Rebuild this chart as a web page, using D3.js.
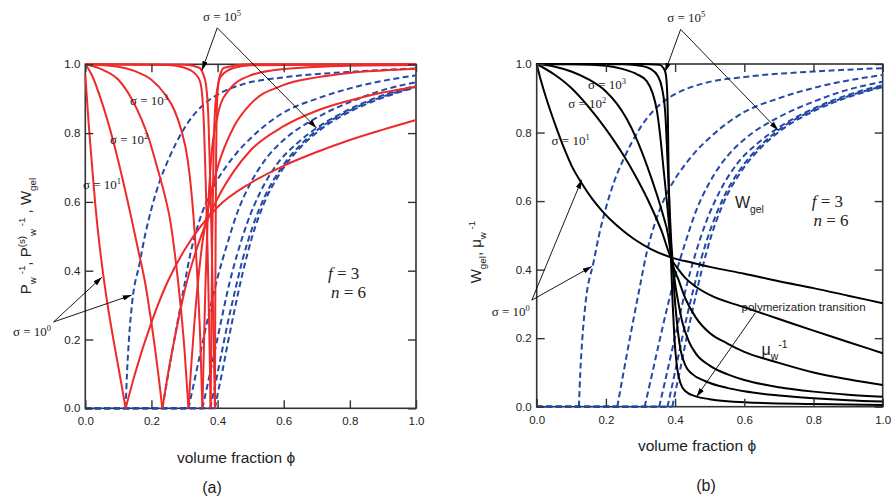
<!DOCTYPE html>
<html>
<head>
<meta charset="utf-8">
<script src="https://cdn.jsdelivr.net/npm/d3@7"></script>
<style>
  body { margin: 0; background: #fff; }
</style>
</head>
<body>
<svg id="chart" width="894" height="497"></svg>
<script>
// sigma = 10^k, k = 0..5, f = 3, n = 6
const sigmaExp = [0, 1, 2, 3, 4, 5];
const gelPhi = [0.122, 0.233, 0.312, 0.354, 0.379, 0.392];
const xTicks = [0, 0.2, 0.4, 0.6, 0.8, 1.0];
const yTicks = [0, 0.2, 0.4, 0.6, 0.8, 1.0];

// sol branch P_w^-1 (red, falls to 0 at the gel point)
const solDown = [
  [[0,0.97],[0.01,0.83],[0.02,0.71],[0.03,0.595],[0.04,0.5],[0.054,0.39],[0.07,0.285],[0.085,0.2],[0.1,0.12],[0.112,0.055],[0.122,0]],
  [[0,1],[0.02,0.968],[0.05,0.89],[0.085,0.775],[0.107,0.69],[0.14,0.55],[0.16,0.46],[0.18,0.37],[0.195,0.28],[0.21,0.18],[0.222,0.09],[0.233,0]],
  [[0,1],[0.05,0.985],[0.1,0.955],[0.14,0.9],[0.17,0.84],[0.19,0.79],[0.216,0.705],[0.24,0.62],[0.256,0.55],[0.272,0.44],[0.288,0.3],[0.3,0.17],[0.312,0]],
  [[0,1],[0.1,0.993],[0.15,0.98],[0.2,0.955],[0.243,0.91],[0.27,0.865],[0.29,0.81],[0.31,0.72],[0.327,0.56],[0.34,0.36],[0.348,0.19],[0.354,0]],
  [[0,1],[0.25,0.998],[0.3,0.99],[0.33,0.975],[0.347,0.95],[0.357,0.86],[0.364,0.66],[0.37,0.45],[0.375,0.22],[0.379,0]],
  [[0,1],[0.3,0.999],[0.345,0.99],[0.355,0.975],[0.365,0.94],[0.372,0.85],[0.378,0.66],[0.384,0.4],[0.388,0.2],[0.392,0]]
];

// gel branch P_w^(s)-1 (red, rises after the gel point)
const gelUp = [
  [[0.122,0],[0.15,0.1],[0.2,0.25],[0.25,0.37],[0.3,0.46],[0.35,0.53],[0.4,0.585],[0.5,0.655],[0.6,0.705],[0.7,0.745],[0.8,0.78],[0.9,0.81],[1.0,0.838]],
  [[0.233,0],[0.25,0.1],[0.28,0.25],[0.3,0.34],[0.35,0.5],[0.4,0.61],[0.45,0.69],[0.5,0.75],[0.6,0.82],[0.7,0.865],[0.8,0.895],[0.9,0.918],[1.0,0.935]],
  [[0.312,0],[0.32,0.12],[0.33,0.25],[0.35,0.45],[0.375,0.6],[0.4,0.7],[0.45,0.82],[0.5,0.885],[0.6,0.94],[0.7,0.962],[0.8,0.975],[0.9,0.982],[1.0,0.987]],
  [[0.354,0],[0.358,0.15],[0.363,0.35],[0.37,0.55],[0.38,0.72],[0.4,0.85],[0.43,0.92],[0.5,0.968],[0.6,0.986],[0.8,0.996],[1.0,0.998]],
  [[0.379,0],[0.381,0.2],[0.384,0.5],[0.388,0.75],[0.395,0.9],[0.41,0.965],[0.45,0.99],[0.5,0.997],[1.0,1]],
  [[0.392,0],[0.393,0.3],[0.395,0.65],[0.398,0.88],[0.405,0.96],[0.42,0.99],[0.5,1],[1.0,1]]
];

// gel fraction W_gel (blue dashed, zero below the gel point)
const wGel = [
  [[0.122,0],[0.126,0.1],[0.132,0.2],[0.142,0.31],[0.164,0.42],[0.18,0.5],[0.2,0.58],[0.225,0.66],[0.25,0.72],[0.3,0.815],[0.366,0.89],[0.4,0.912],[0.48,0.943],[0.6,0.962],[0.8,0.978],[1.0,0.988]],
  [[0.233,0],[0.25,0.095],[0.275,0.23],[0.3,0.36],[0.318,0.45],[0.34,0.53],[0.366,0.6],[0.4,0.665],[0.424,0.7],[0.46,0.745],[0.5,0.785],[0.6,0.86],[0.7,0.9],[0.8,0.93],[0.9,0.952],[1.0,0.968]],
  [[0.312,0],[0.33,0.08],[0.35,0.17],[0.375,0.28],[0.4,0.38],[0.43,0.48],[0.46,0.57],[0.5,0.655],[0.55,0.73],[0.6,0.78],[0.7,0.845],[0.8,0.89],[0.9,0.925],[1.0,0.948]],
  [[0.354,0],[0.37,0.07],[0.39,0.16],[0.41,0.25],[0.43,0.34],[0.46,0.45],[0.49,0.54],[0.53,0.63],[0.58,0.71],[0.64,0.77],[0.7,0.815],[0.8,0.87],[0.9,0.91],[1.0,0.938]],
  [[0.378,0],[0.39,0.055],[0.41,0.15],[0.43,0.245],[0.45,0.33],[0.475,0.43],[0.505,0.525],[0.54,0.61],[0.59,0.695],[0.65,0.765],[0.7,0.808],[0.8,0.866],[0.9,0.906],[1.0,0.935]],
  [[0.392,0],[0.4,0.04],[0.415,0.11],[0.43,0.185],[0.45,0.28],[0.475,0.39],[0.505,0.5],[0.54,0.595],[0.59,0.685],[0.65,0.758],[0.7,0.802],[0.8,0.862],[0.9,0.903],[1.0,0.933]]
];

// inverse weight-average degree mu_w^-1 (black)
const muInv = [
  [[0,1],[0.01,0.96],[0.02,0.925],[0.04,0.862],[0.06,0.805],[0.08,0.752],[0.1,0.705],[0.13,0.652],[0.16,0.607],[0.19,0.57],[0.23,0.53],[0.28,0.49],[0.33,0.46],[0.39,0.435],[0.45,0.42],[0.5,0.408],[0.6,0.388],[0.7,0.366],[0.8,0.346],[0.9,0.324],[1.0,0.302]],
  [[0,1],[0.05,0.97],[0.1,0.93],[0.15,0.875],[0.2,0.81],[0.25,0.735],[0.29,0.665],[0.33,0.585],[0.36,0.515],[0.39,0.43],[0.41,0.4],[0.43,0.375],[0.46,0.35],[0.5,0.326],[0.6,0.29],[0.7,0.256],[0.8,0.222],[0.9,0.189],[1.0,0.156]],
  [[0,1],[0.05,0.993],[0.1,0.978],[0.15,0.955],[0.2,0.92],[0.231,0.885],[0.26,0.84],[0.289,0.78],[0.32,0.7],[0.347,0.62],[0.365,0.56],[0.38,0.5],[0.39,0.43],[0.41,0.37],[0.43,0.315],[0.46,0.26],[0.5,0.215],[0.55,0.185],[0.6,0.16],[0.7,0.128],[0.8,0.1],[0.9,0.08],[1.0,0.063]],
  [[0,1],[0.1,0.999],[0.2,0.995],[0.25,0.985],[0.29,0.97],[0.318,0.95],[0.335,0.915],[0.347,0.866],[0.357,0.79],[0.366,0.7],[0.378,0.58],[0.385,0.5],[0.392,0.425],[0.4,0.36],[0.41,0.3],[0.42,0.25],[0.44,0.19],[0.46,0.155],[0.5,0.12],[0.55,0.095],[0.6,0.078],[0.7,0.057],[0.8,0.044],[0.9,0.035],[1.0,0.029]],
  [[0,1],[0.25,0.999],[0.3,0.995],[0.33,0.985],[0.35,0.965],[0.362,0.93],[0.372,0.85],[0.378,0.72],[0.384,0.58],[0.389,0.48],[0.393,0.42],[0.398,0.33],[0.405,0.25],[0.415,0.17],[0.43,0.12],[0.45,0.095],[0.486,0.075],[0.55,0.055],[0.6,0.045],[0.7,0.033],[0.8,0.025],[0.9,0.019],[1.0,0.015]],
  [[0,1],[0.3,1],[0.355,0.998],[0.365,0.99],[0.372,0.975],[0.376,0.94],[0.379,0.85],[0.381,0.7],[0.384,0.55],[0.388,0.43],[0.393,0.3],[0.398,0.2],[0.405,0.12],[0.415,0.07],[0.43,0.045],[0.46,0.03],[0.5,0.022],[0.6,0.013],[0.8,0.008],[1.0,0.005]]
];

const RED = "#ee2a2a", BLUE = "#2449a6", BLACK = "#000";
const SANS = "'Liberation Sans', Arial, sans-serif";
const SERIF = "'Liberation Serif', 'Times New Roman', serif";

var svg = d3.select("#chart").style("font-family", SANS);

svg.append("defs").append("marker")
    .attr("id", "arr")
    .attr("viewBox", "0 0 10 6")
    .attr("refX", 10).attr("refY", 3)
    .attr("markerWidth", 9).attr("markerHeight", 5.4)
    .attr("markerUnits", "userSpaceOnUse")
    .attr("orient", "auto")
  .append("path")
    .attr("d", "M0,0 L10,3 L0,6 z")
    .attr("fill", "#000");

// text with sub/superscripts, parts = [[text, "b"|"sub"|"sup", size]]
const richText = (parent, parts, baseSize) => {
    var t = parent.append("text").style("font-size", baseSize + "px");
    var cur = 0;
    parts.forEach(function (p) {
        var off = p[1] === "sub" ? baseSize * 0.3 : (p[1] === "sup" ? -baseSize * 0.42 : 0);
        var sz = p[2] || (p[1] === "b" ? baseSize : baseSize * 0.65);
        t.append("tspan").attr("dy", off - cur).style("font-size", sz + "px").text(p[0]);
        cur = off;
    });
    return t;
};

const sigmaLabel = (g, x, y, px, py, e) => {
    var t = g.append("text")
        .attr("x", x(px)).attr("y", y(py))
        .style("font-family", SERIF).style("font-size", "13px").attr("fill", "#222");
    t.append("tspan").text("\u03c3 = 10");
    t.append("tspan").attr("dy", -5).style("font-size", "8.5px").text(e);
};

const paramLabel = (g, px, py, sym, val) => {
    var t = g.append("text").attr("x", px).attr("y", py)
        .style("font-family", SERIF).style("font-size", "17px").attr("fill", "#222");
    t.append("tspan").style("font-style", "italic").text(sym);
    t.append("tspan").text(" = " + val);
};

const arrow = (g, x, y, a, b) => {
    g.append("line")
        .attr("x1", x(a[0])).attr("y1", y(a[1]))
        .attr("x2", x(b[0])).attr("y2", y(b[1]))
        .attr("stroke", "#000").attr("stroke-width", 0.9)
        .attr("marker-end", "url(#arr)");
};

const drawPanel = (cfg) => {
    var x = d3.scaleLinear().domain([0, 1]).range([cfg.left, cfg.right]);
    var y = d3.scaleLinear().domain([0, 1]).range([cfg.bottom, cfg.top]);
    var g = svg.append("g");

    var line = d3.line()
        .x(function (d) { return x(d[0]); })
        .y(function (d) { return y(d[1]); })
        .curve(d3.curveMonotoneX);
    var flat = d3.line()
        .x(function (d) { return x(d[0]); })
        .y(function (d) { return y(d[1]); });

    // frame
    g.append("rect")
        .attr("x", x(0)).attr("y", y(1))
        .attr("width", x(1) - x(0)).attr("height", y(0) - y(1))
        .attr("fill", "none").attr("stroke", "#333").attr("stroke-width", 1.6);

    // W_gel, blue dashed
    var wg = g.append("g").attr("fill", "none").attr("stroke", BLUE)
        .attr("stroke-width", 2).attr("stroke-dasharray", "6,3.5");
    wGel.forEach(function (c, i) {
        wg.append("path").attr("d", flat([[0, 0], [gelPhi[i], 0]]));
        wg.append("path").attr("d", line(c));
    });

    var cg = g.append("g").attr("fill", "none").attr("stroke-width", 2)
        .attr("stroke", cfg.color).attr("stroke-linejoin", "round");
    cfg.curves.forEach(function (c) {
        cg.append("path").attr("d", line(c));
    });

    // axes, inward ticks on all four sides
    var fmt = d3.format(".1f");
    var axB = g.append("g").attr("transform", "translate(0," + y(0) + ")")
        .call(d3.axisBottom(x).tickValues(xTicks).tickSizeInner(-8).tickSizeOuter(0).tickPadding(9).tickFormat(fmt));
    var axL = g.append("g").attr("transform", "translate(" + x(0) + ",0)")
        .call(d3.axisLeft(y).tickValues(yTicks).tickSizeInner(-8).tickSizeOuter(0).tickPadding(5).tickFormat(fmt));
    var axT = g.append("g").attr("transform", "translate(0," + y(1) + ")")
        .call(d3.axisTop(x).tickValues(xTicks).tickSizeInner(-8).tickSizeOuter(0).tickFormat(""));
    var axR = g.append("g").attr("transform", "translate(" + x(1) + ",0)")
        .call(d3.axisRight(y).tickValues(yTicks).tickSizeInner(-8).tickSizeOuter(0).tickFormat(""));
    [axB, axL, axT, axR].forEach(function (a) {
        a.select(".domain").remove();
        a.selectAll("line").attr("stroke", "#333").attr("stroke-width", 1.4);
        a.selectAll("text").attr("font-size", 11.5).attr("fill", "#222").attr("font-family", SANS);
    });

    return { g: g, x: x, y: y };
};

// ---- panel (a) ----
var pa = drawPanel({ left: 85.3, right: 416, top: 64.3, bottom: 408.3, color: RED,
    curves: solDown.concat(gelUp) });
(function (p) {
    var g = p.g, x = p.x, y = p.y;
    sigmaLabel(g, x, y, 0.356, 1.126, sigmaExp[5]);
    arrow(g, x, y, [0.399, 1.106], [0.353, 0.983]);
    arrow(g, x, y, [0.399, 1.106], [0.699, 0.815]);
    sigmaLabel(g, x, y, 0.135, 0.882, sigmaExp[3]);
    sigmaLabel(g, x, y, 0.075, 0.768, sigmaExp[2]);
    sigmaLabel(g, x, y, -0.007, 0.638, sigmaExp[1]);
    sigmaLabel(g, x, y, -0.219, 0.21, sigmaExp[0]);
    arrow(g, x, y, [-0.096, 0.251], [0.05, 0.381]);
    arrow(g, x, y, [-0.096, 0.251], [0.14, 0.329]);

    paramLabel(g, x(0.734), y(0.376), "f", 3);
    paramLabel(g, x(0.743), y(0.32), "n", 6);

    g.append("text").attr("x", 177).attr("y", 463).style("font-size", "15.5px").attr("fill", "#222")
        .text("volume fraction  \u03d5");
    g.append("text").attr("x", 212).attr("y", 493).style("font-size", "16px").attr("fill", "#222")
        .attr("text-anchor", "middle").text("(a)");

    var yl = richText(g, [["P", "b"], ["w", "sub"], [" -1", "sup"], [",  P", "b"], ["(s)", "sup"],
        ["w", "sub"], [" -1", "sup"], [" ,  W", "b"], ["gel", "sub"]], 15);
    yl.attr("transform", "translate(31,236) rotate(-90)").attr("text-anchor", "middle").attr("fill", "#222");
})(pa);

// ---- panel (b) ----
var pb = drawPanel({ left: 536.7, right: 882.7, top: 64, bottom: 406.7, color: BLACK,
    curves: muInv });
(function (p) {
    var g = p.g, x = p.x, y = p.y;
    sigmaLabel(g, x, y, 0.377, 1.123, sigmaExp[5]);
    arrow(g, x, y, [0.416, 1.101], [0.371, 0.977]);
    arrow(g, x, y, [0.416, 1.101], [0.698, 0.807]);
    sigmaLabel(g, x, y, 0.148, 0.927, sigmaExp[3]);
    sigmaLabel(g, x, y, 0.091, 0.872, sigmaExp[2]);
    sigmaLabel(g, x, y, 0.043, 0.764, sigmaExp[1]);
    sigmaLabel(g, x, y, -0.13, 0.264, sigmaExp[0]);
    arrow(g, x, y, [-0.014, 0.311], [0.13, 0.662]);
    arrow(g, x, y, [-0.014, 0.311], [0.159, 0.409]);

    paramLabel(g, x(0.795), y(0.583), "f", 3);
    paramLabel(g, x(0.8), y(0.527), "n", 6);

    richText(g, [["W", "b"], ["gel", "sub"]], 16).attr("x", x(0.573)).attr("y", y(0.58)).attr("fill", "#222");
    richText(g, [["\u03bc", "b"], ["w", "sub"], ["-1", "sup"]], 16).attr("x", x(0.65)).attr("y", y(0.151)).attr("fill", "#222");

    g.append("text").attr("x", x(0.592)).attr("y", y(0.279)).style("font-size", "11.5px").attr("fill", "#222")
        .text("polymerization transition");
    arrow(g, x, y, [0.632, 0.274], [0.462, 0.029]);

    g.append("text").attr("x", 638).attr("y", 451).style("font-size", "15.5px").attr("fill", "#222")
        .text("volume fraction  \u03d5");
    g.append("text").attr("x", 706).attr("y", 491).style("font-size", "16px").attr("fill", "#222")
        .attr("text-anchor", "middle").text("(b)");

    var yl = richText(g, [["W", "b"], ["gel", "sub"], [",  \u03bc", "b"], ["w", "sub"], [" -1", "sup"]], 15);
    yl.attr("transform", "translate(481,252) rotate(-90)").attr("text-anchor", "middle").attr("fill", "#222");
})(pb);
</script>
</body>
</html>
